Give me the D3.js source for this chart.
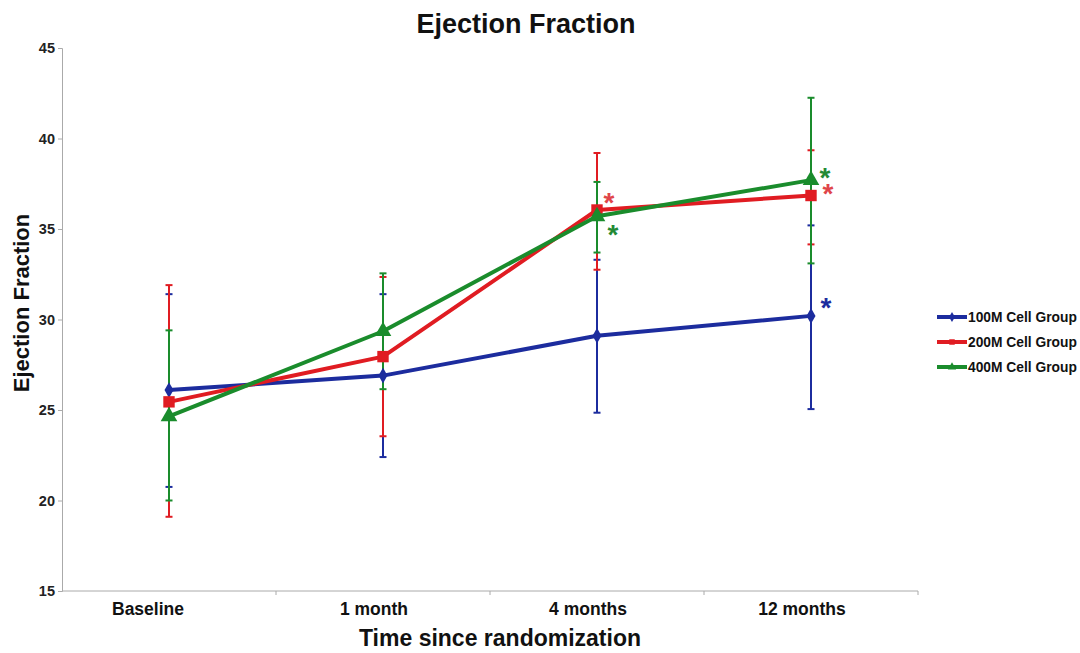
<!DOCTYPE html>
<html>
<head>
<meta charset="utf-8">
<script src="https://cdn.jsdelivr.net/npm/d3@7"></script>
<style>
  body { margin: 0; background: #fff; }
  text { font-family: "Liberation Sans", Arial, sans-serif; font-weight: bold; }
</style>
</head>
<body>
<div id="chart"></div>
<script>
// データ
var categories = ["Baseline", "1 month", "4 months", "12 months"];
var seriesNames = ["100M Cell Group", "200M Cell Group", "400M Cell Group"];
var yTicks = [15, 20, 25, 30, 35, 40, 45];

var mean100 = [26.1, 26.9, 29.1, 30.2];
var low100  = [20.75, 22.4, 24.85, 25.05];
var high100 = [31.4, 31.4, 33.3, 35.2];

var mean200 = [25.45, 27.95, 36.05, 36.85];
var low200  = [19.1, 23.55, 32.75, 34.15];
var high200 = [31.9, 32.35, 39.2, 39.35];

var mean400 = [24.65, 29.35, 35.7, 37.7];
var low400  = [20.0, 26.15, 33.7, 33.1];
var high400 = [29.4, 32.55, 37.6, 42.25];

// 有意差マーク (series index, category index)
var starSeries = [1, 2, 2, 1, 0];
var starCats   = [2, 2, 3, 3, 3];

// 表示設定
var colors = ["#1c2c9e", "#e01c22", "#1a8c2c"];
var starColors = ["#1c2c9e", "#e0454a", "#248a36"];
var starOffsets = [[12, 2], [16, 28], [14, 7], [17, 7], [15, 1]];
var shapes = [d3.symbolDiamond, d3.symbolSquare, d3.symbolTriangle];
var shapeSizes = [70, 130, 120];

var series = seriesNames.map(function(name, s) {
    var m = [mean100, mean200, mean400][s];
    var lo = [low100, low200, low400][s];
    var hi = [high100, high200, high400][s];
    return { name: name, idx: s, points: categories.map(function(c, i) {
        return { cat: c, y: m[i], lo: lo[i], hi: hi[i] };
    }) };
});

var width = 1080, height = 653;
var margin = { top: 48, right: 162, bottom: 62, left: 62 };

var svg = d3.select("#chart").append("svg")
    .attr("width", width).attr("height", height);

var xScale = d3.scaleBand()
    .domain(categories)
    .range([margin.left, width - margin.right])
    .paddingInner(0).paddingOuter(0);

var yScale = d3.scaleLinear()
    .domain([15, 45])
    .range([height - margin.bottom, margin.top]);

var cx = function(c) { return xScale(c) + xScale.bandwidth() / 2; };

// タイトル
svg.append("text")
    .attr("x", 526).attr("y", 33)
    .attr("text-anchor", "middle")
    .attr("font-size", "27px")
    .attr("fill", "#111")
    .text("Ejection Fraction");

// Y軸
var yAxis = svg.append("g")
    .attr("transform", "translate(" + margin.left + ",0)")
    .call(d3.axisLeft(yScale).tickValues(yTicks).tickSize(4).tickPadding(3));
yAxis.select(".domain").attr("stroke", "#aaa");
yAxis.selectAll(".tick line").attr("stroke", "#aaa");
yAxis.selectAll(".tick text")
    .attr("font-size", "14.5px").attr("fill", "#222")
    .attr("font-family", "Liberation Sans, Arial, sans-serif").attr("font-weight", "bold");

// X軸
var xAxisY = height - margin.bottom;
var xg = svg.append("g");
xg.append("line")
    .attr("x1", margin.left).attr("x2", width - margin.right)
    .attr("y1", xAxisY).attr("y2", xAxisY)
    .attr("stroke", "#aaa");
xg.selectAll(".xtick")
    .data(categories)
    .enter().append("line")
    .attr("x1", function(d) { return xScale(d) + xScale.bandwidth(); })
    .attr("x2", function(d) { return xScale(d) + xScale.bandwidth(); })
    .attr("y1", xAxisY).attr("y2", xAxisY + 4)
    .attr("stroke", "#aaa");
xg.selectAll(".xlabel")
    .data(categories)
    .enter().append("text")
    .attr("x", function(d) { return cx(d); })
    .attr("y", xAxisY + 24)
    .attr("dx", function(d, i) { return i === 0 ? -21 : -9; })
    .attr("text-anchor", "middle")
    .attr("font-size", "17.5px")
    .attr("fill", "#111")
    .text(function(d) { return d; });

svg.append("text")
    .attr("x", 500).attr("y", 646)
    .attr("text-anchor", "middle")
    .attr("font-size", "23px")
    .attr("fill", "#111")
    .text("Time since randomization");

svg.append("text")
    .attr("transform", "translate(29,303) rotate(-90)")
    .attr("text-anchor", "middle")
    .attr("font-size", "22px")
    .attr("fill", "#111")
    .text("Ejection Fraction");

// エラーバー
series.forEach(function(s) {
    var g = svg.append("g");
    g.selectAll(".stem").data(s.points).enter().append("line")
        .attr("x1", function(d) { return cx(d.cat); })
        .attr("x2", function(d) { return cx(d.cat); })
        .attr("y1", function(d) { return yScale(d.lo); })
        .attr("y2", function(d) { return yScale(d.hi); })
        .attr("stroke", colors[s.idx]).attr("stroke-width", 2);
    ["lo", "hi"].forEach(function(k) {
        g.selectAll(".cap" + k).data(s.points).enter().append("line")
            .attr("x1", function(d) { return cx(d.cat) - 3.5; })
            .attr("x2", function(d) { return cx(d.cat) + 3.5; })
            .attr("y1", function(d) { return yScale(d[k]); })
            .attr("y2", function(d) { return yScale(d[k]); })
            .attr("stroke", colors[s.idx]).attr("stroke-width", 2);
    });
});

// 折れ線とマーカー
var line = d3.line()
    .x(function(d) { return cx(d.cat); })
    .y(function(d) { return yScale(d.y); });

series.forEach(function(s) {
    svg.append("path")
        .datum(s.points)
        .attr("fill", "none")
        .attr("stroke", colors[s.idx])
        .attr("stroke-width", 4)
        .attr("stroke-linejoin", "round")
        .attr("d", line);
    svg.append("g").selectAll("path")
        .data(s.points).enter().append("path")
        .attr("transform", function(d) { return "translate(" + cx(d.cat) + "," + yScale(d.y) + ")"; })
        .attr("d", d3.symbol().type(shapes[s.idx]).size(shapeSizes[s.idx]))
        .attr("fill", colors[s.idx]);
});

// アスタリスク
starSeries.forEach(function(si, k) {
    var p = series[si].points[starCats[k]];
    svg.append("text")
        .attr("x", cx(p.cat) + starOffsets[k][0])
        .attr("y", yScale(p.y) + starOffsets[k][1])
        .attr("text-anchor", "middle")
        .attr("font-size", "28px")
        .attr("font-weight", "normal")
        .attr("fill", starColors[si])
        .text("*");
});

// 凡例
var legend = svg.append("g");
seriesNames.forEach(function(name, i) {
    var ly = 317 + i * 25;
    legend.append("line")
        .attr("x1", 937).attr("x2", 967)
        .attr("y1", ly).attr("y2", ly)
        .attr("stroke", colors[i]).attr("stroke-width", 4);
    legend.append("path")
        .attr("transform", "translate(952," + ly + ")")
        .attr("d", d3.symbol().type(shapes[i]).size(30))
        .attr("fill", colors[i]);
    legend.append("text")
        .attr("x", 968).attr("y", ly + 5)
        .attr("font-size", "13.8px")
        .attr("fill", "#111")
        .text(name);
});
</script>
</body>
</html>
